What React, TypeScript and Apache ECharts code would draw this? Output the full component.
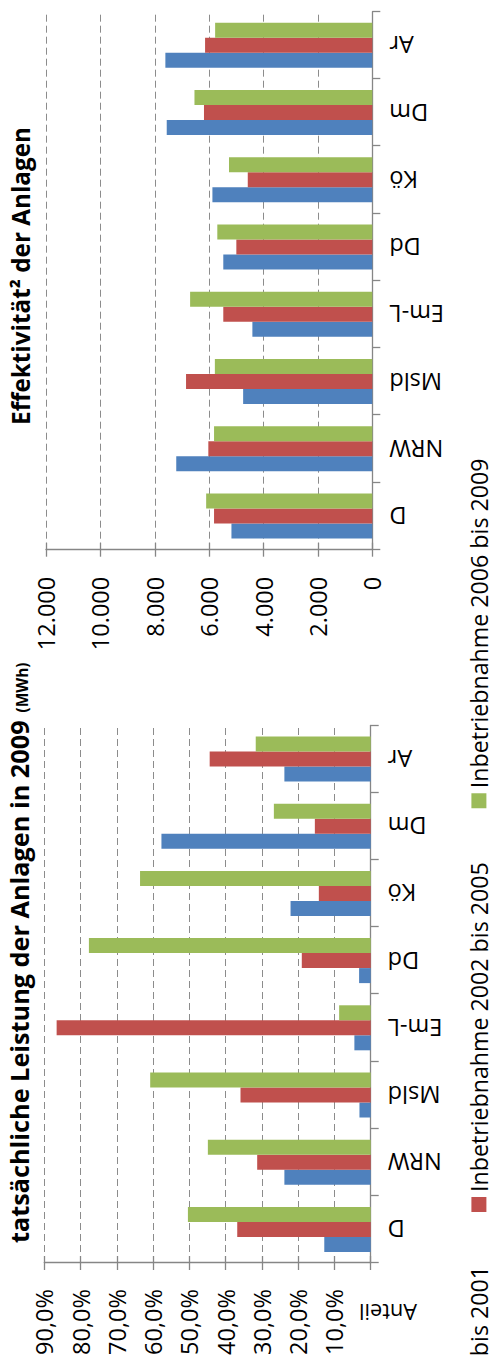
import React, { useEffect, useRef } from "react";
import * as echarts from "echarts";

const categories = ["D", "NRW", "Msld", "Em-L", "Dd", "Kö", "Dm", "Ar"];
const seriesNames = [
  "Inbetriebnahme bis 2001",
  "Inbetriebnahme 2002 bis 2005",
  "Inbetriebnahme 2006 bis 2009",
];
const colors = ["#4F81BD", "#C0504D", "#9BBB59"];

// tatsächliche Leistung der Anlagen in 2009 (Anteil, %)
const leistungBis2001 = [12.8, 23.8, 3.1, 4.5, 3.2, 22.1, 57.7, 23.8];
const leistung2002bis2005 = [36.8, 31.3, 35.9, 86.6, 19.0, 14.3, 15.4, 44.4];
const leistung2006bis2009 = [50.4, 44.9, 60.8, 8.7, 77.7, 63.6, 26.7, 31.7];

// Effektivität der Anlagen
const effBis2001 = [5180, 7210, 4750, 4410, 5480, 5880, 7560, 7610];
const eff2002bis2005 = [5820, 6030, 6850, 5480, 5000, 4580, 6190, 6150];
const eff2006bis2009 = [6110, 5820, 5790, 6700, 5700, 5270, 6540, 5780];

const leftTitle = "tatsächliche Leistung der Anlagen in 2009";
const leftTitleUnit = "(MWh)";
const rightTitle = "Effektivität² der Anlagen";
const leftAxisName = "Anteil";

const FONT = "'Open Sans', sans-serif";
const AXIS_COLOR = "#868686";
const GRID_COLOR = "#8c8c8c";

function pctFmt(v: number) {
  if (v === 0) return "";
  return v.toFixed(1).replace(".", ",") + "%";
}
function thouFmt(v: number) {
  return String(v).replace(/\B(?=(\d{3})+(?!\d))/g, ".");
}

let measureCtx: CanvasRenderingContext2D | null = null;
function measure(text: string, font: string) {
  if (!measureCtx) measureCtx = document.createElement("canvas").getContext("2d");
  if (!measureCtx) return text.length * 12;
  measureCtx.font = font;
  return measureCtx.measureText(text).width;
}
// font size so that the text spans the target length
function fit(text: string, weight: string, target: number) {
  const w = measure(text, `${weight} 100px 'Open Sans'`);
  return w > 0 ? (100 * target) / w : 23;
}

function buildOption() {
  const catFont = fit("NRW", "normal", 54);
  const valFont = fit("90,0%", "normal", 66);
  const legendFont = fit(seriesNames[1], "normal", 330);
  const leftTitleFont = fit(leftTitle, "bold", 523);
  const rightTitleFont = fit(rightTitle, "bold", 298);
  const unitFont = fit(leftTitleUnit, "bold", 50);
  const anteilFont = fit(leftAxisName, "normal", 58);

  const grids = [
    { left: 96, top: 44.3, width: 537.6, height: 326.4 },
    { left: 809.3, top: 46, width: 538, height: 326.3 },
  ];
  const xAxes = grids.map((_, i) => ({
    type: "category",
    gridIndex: i,
    data: categories,
    axisLine: { show: true, lineStyle: { color: AXIS_COLOR, width: 1.3 } },
    axisTick: { show: true, length: 8, lineStyle: { color: AXIS_COLOR, width: 1.3 } },
    axisLabel: {
      rotate: 90,
      margin: 17,
      interval: 0,
      color: "#000",
      fontFamily: FONT,
      fontSize: catFont,
    },
    splitLine: { show: false },
  }));
  const valueAxis = (i: number, max: number, interval: number, fmt: (v: number) => string, margin: number) => [
    {
      type: "value",
      gridIndex: i,
      min: 0,
      max,
      interval,
      position: "left",
      axisLine: { show: true, lineStyle: { color: AXIS_COLOR, width: 1.3 } },
      axisTick: { show: true, length: 7, lineStyle: { color: AXIS_COLOR, width: 1.3 } },
      axisLabel: { formatter: fmt, margin, color: "#000", fontFamily: FONT, fontSize: valFont },
      splitLine: { show: true, lineStyle: { color: GRID_COLOR, width: 1, type: [7, 4] } },
    },
    {
      type: "value",
      gridIndex: i,
      min: 0,
      max,
      interval,
      position: "left",
      axisLine: { show: false },
      axisTick: { show: true, inside: true, length: 7, lineStyle: { color: AXIS_COLOR, width: 1.3 } },
      axisLabel: { show: false },
      splitLine: { show: false },
    },
  ];
  const yAxes = [
    ...valueAxis(0, 90, 10, pctFmt, 26),
    ...valueAxis(1, 12000, 2000, thouFmt, 27),
  ];
  const leftData = [leistungBis2001, leistung2002bis2005, leistung2006bis2009];
  const rightData = [effBis2001, eff2002bis2005, eff2006bis2009];
  const series: any[] = [];
  leftData.forEach((d, k) =>
    series.push({
      type: "bar",
      name: seriesNames[k],
      xAxisIndex: 0,
      yAxisIndex: 0,
      data: d,
      barGap: "0%",
      barCategoryGap: "33%",
      itemStyle: { color: colors[k] },
    })
  );
  rightData.forEach((d, k) =>
    series.push({
      type: "bar",
      name: seriesNames[k],
      xAxisIndex: 1,
      yAxisIndex: 2,
      data: d,
      barGap: "0%",
      barCategoryGap: "33%",
      itemStyle: { color: colors[k] },
    })
  );

  const leftTitleX = 116;
  const leftTitleW = measure(leftTitle, `bold ${leftTitleFont}px 'Open Sans'`);

  // legend: red marker at x = 147 in the reference
  const legendGap = 54;
  const blueW = measure(seriesNames[0], `normal ${legendFont}px 'Open Sans'`);
  const legendLeft = 147 - legendGap - blueW - 20;

  return {
    animation: false,
    backgroundColor: "#ffffff",
    grid: grids,
    xAxis: xAxes,
    yAxis: yAxes,
    legend: {
      data: seriesNames,
      left: legendLeft,
      top: 479 - legendFont / 2,
      width: 1500,
      padding: 0,
      icon: "rect",
      itemWidth: 15,
      itemHeight: 15,
      itemGap: legendGap,
      textStyle: { color: "#000", fontFamily: FONT, fontSize: legendFont },
    },
    graphic: [
      {
        type: "text",
        x: leftTitleX,
        y: 19,
        style: {
          text: leftTitle,
          fontSize: leftTitleFont,
          fontWeight: "bold",
          fontFamily: FONT,
          align: "left",
          verticalAlign: "middle",
          fill: "#000",
        },
      },
      {
        type: "text",
        x: leftTitleX + leftTitleW + 8,
        y: 22,
        style: {
          text: leftTitleUnit,
          fontSize: unitFont,
          fontWeight: "bold",
          fontFamily: FONT,
          align: "left",
          verticalAlign: "middle",
          fill: "#000",
        },
      },
      {
        type: "text",
        x: 1083,
        y: 20,
        style: {
          text: rightTitle,
          fontSize: rightTitleFont,
          fontWeight: "bold",
          fontFamily: FONT,
          align: "center",
          verticalAlign: "middle",
          fill: "#000",
        },
      },
      {
        type: "text",
        x: 47,
        y: 388,
        rotation: Math.PI / 2,
        style: {
          text: leftAxisName,
          fontSize: anteilFont,
          fontFamily: FONT,
          align: "center",
          verticalAlign: "middle",
          fill: "#000",
        },
      },
    ],
    series,
  };
}

export default function App() {
  const ref = useRef<HTMLDivElement>(null);
  useEffect(() => {
    document.body.style.margin = "0";
    document.body.style.overflow = "hidden";
    const chart = echarts.init(ref.current as HTMLDivElement, null, {
      renderer: "svg",
      width: 1359,
      height: 494,
    });
    chart.setOption(buildOption() as any);
    return () => chart.dispose();
  }, []);
  return (
    <div
      ref={ref}
      style={{
        position: "absolute",
        left: 0,
        top: 0,
        width: 1359,
        height: 494,
        background: "#fff",
        transformOrigin: "0 0",
        transform: "translateY(1359px) rotate(-90deg)",
      }}
    />
  );
}
